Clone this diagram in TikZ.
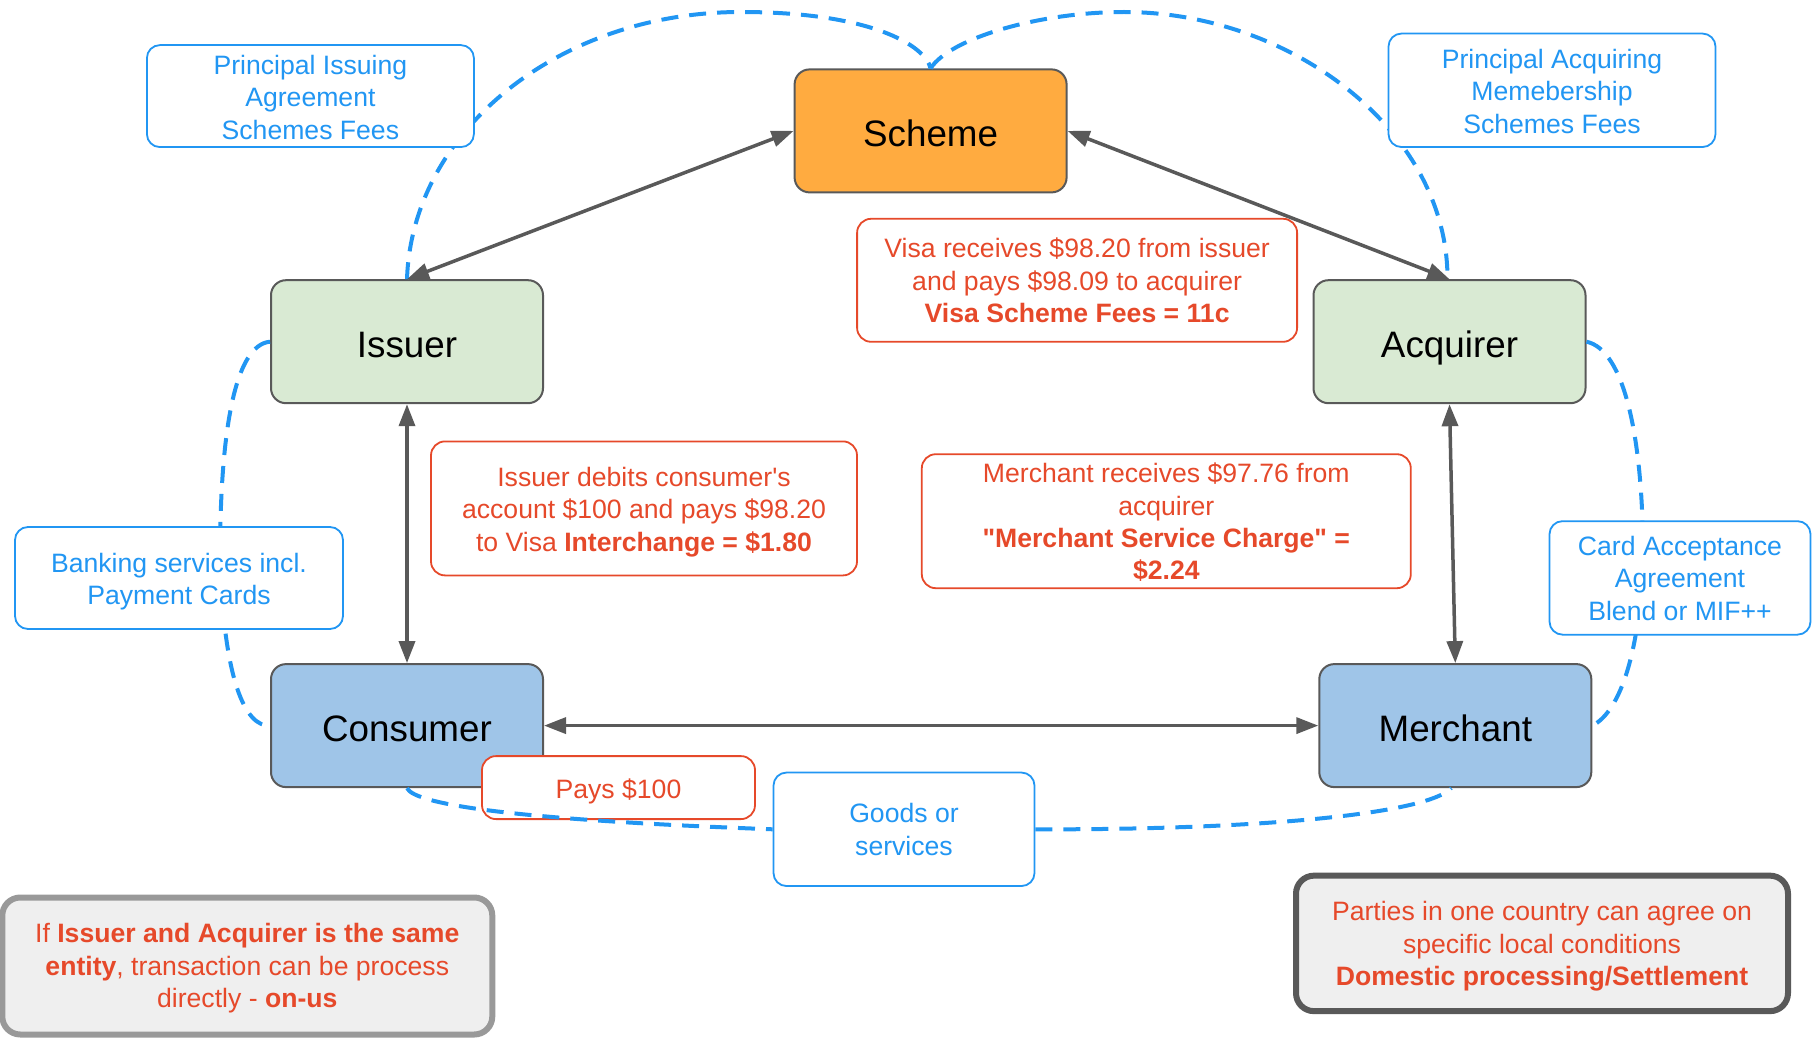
\documentclass[tikz,border=0pt]{standalone}
\usepackage{fontspec}
\setmainfont{Liberation Sans}[Ligatures=TeXOff]
\usetikzlibrary{arrows.meta}
\definecolor{linkblue}{HTML}{2196F3}
\definecolor{notered}{HTML}{E6492A}
\definecolor{edgegray}{HTML}{595959}
\definecolor{schemeorange}{HTML}{FFAB40}
\definecolor{bankgreen}{HTML}{D9EAD3}
\definecolor{partyblue}{HTML}{9FC5E8}
\definecolor{panelgray}{HTML}{EFEFEF}
\definecolor{panelrim}{HTML}{999999}
% invisible strut that sets the height of a first text line
\newcommand\toprule[1]{\rule{0pt}{#1}}

\begin{document}
\begin{tikzpicture}[x=0.5pt,y=-0.5pt,
  party/.style={draw=edgegray, line width=1pt, rounded corners=7.5pt,
    minimum width=136pt, minimum height=61.5pt, inner sep=0pt,
    text height=15.6pt, text depth=0pt,
    font=\fontsize{18.4}{22}\selectfont},
  agree/.style={draw=linkblue, fill=white, line width=0.9pt, rounded corners=6.5pt,
    text=linkblue, align=center, inner sep=0pt,
    font=\fontsize{13.3}{16.2}\selectfont},
  note/.style={draw=notered, fill=white, line width=0.9pt, rounded corners=7pt,
    text=notered, align=center, inner sep=0pt,
    font=\fontsize{13.3}{16.2}\selectfont},
  panel/.style={fill=panelgray, line width=3pt, rounded corners=9pt,
    text=notered, align=center, inner sep=0pt,
    font=\fontsize{13.3}{16.2}\selectfont},
  flow/.style={draw=edgegray, line width=1.75pt,
    {Triangle[length=11pt,width=8pt]}-{Triangle[length=11pt,width=8pt]}},
  link/.style={draw=linkblue, line width=2pt, dash pattern=on 8.5pt off 5.5pt},
]
\useasboundingbox (0,0) rectangle (1816,1038);

% parties
\node[party, fill=schemeorange] (scheme)   at (930.6,130.9) {Scheme};
\node[party, fill=bankgreen]    (issuer)   at (407,341.7)   {Issuer};
\node[party, fill=bankgreen]    (acquirer) at (1449.5,341.7){Acquirer};
\node[party, fill=partyblue]    (consumer) at (407,725.6)   {Consumer};
\node[party, fill=partyblue]    (merchant) at (1455.3,725.6){Merchant};

% contractual relations (dashed, behind the agreement labels)
\coordinate (leftTop)  at (741,12);
\coordinate (rightTop) at (1124,12);
\coordinate (leftMid)  at (220,560);
\coordinate (rightMid) at (1643,545);
\draw[link] (issuer.north) .. controls (412,130) and (560,12) .. (leftTop)
                           .. controls (870,12) and (925,45) .. (scheme.north);
\draw[link] (scheme.north) .. controls (950,38) and (1040,12) .. (rightTop)
                           .. controls (1290,12) and (1448,130) .. ([xshift=-1pt]acquirer.north);
\draw[link] (issuer.west) .. controls (235,345) and (220,430) .. (leftMid)
                          .. controls (224,680) and (245,727) .. (consumer.west);
\draw[link] (acquirer.east) .. controls (1625,350) and (1642,440) .. (rightMid)
                            .. controls (1642,650) and (1620,712) .. (merchant.east);

% agreement labels
\node[agree, minimum width=163.5pt, minimum height=51pt] (pia) at (310.4,96.1)
  {\toprule{10.9pt}Principal Issuing\\Agreement\\Schemes Fees};
\node[agree, minimum width=163.5pt, minimum height=56.75pt] (pam) at (1552,90.3)
  {\toprule{10.6pt}Principal Acquiring\\Memebership\\Schemes Fees};
\node[agree, minimum width=164pt, minimum height=51pt] (bank) at (179,578)
  {\toprule{13.2pt}Banking services incl.\\Payment Cards};
\node[agree, minimum width=130.5pt, minimum height=56.75pt] (caa) at (1680,577.9)
  {\toprule{9.9pt}Card Acceptance\\Agreement\\Blend or MIF++};
\node[agree, minimum width=130.5pt, minimum height=56.75pt] (goods) at (904,829.3)
  {Goods or\\services};

% money flows
\draw[flow] (issuer.north) -- (scheme.west);
\draw[flow] (scheme.east) -- (acquirer.north);
\draw[flow] (issuer.south) -- (consumer.north);
\draw[flow] (acquirer.south) -- (merchant.north);
\draw[flow] (consumer.east) -- (merchant.west);

% amounts
\node[note, minimum width=220pt, minimum height=61.5pt] (visa) at (1077.1,280.3)
  {Visa receives \$98.20 from issuer\\and pays \$98.09 to acquirer\\\textbf{Visa Scheme Fees = 11c}};
\node[note, minimum width=213pt, minimum height=67pt] (debit) at (644,508.4)
  {\toprule{13.2pt}Issuer debits consumer's\\account \$100 and pays \$98.20\\to Visa \textbf{Interchange = \$1.80}};
\node[note, minimum width=244.5pt, minimum height=67pt] (msc) at (1166.3,521.2)
  {\toprule{11pt}Merchant receives \$97.76 from\\acquirer\\\textbf{"Merchant Service Charge" =}\\\textbf{\$2.24}};
\node[note, minimum width=136.5pt, minimum height=31.5pt] (pays) at (618.5,787.6)
  {\toprule{13.2pt}Pays \$100};

% purchase relation
\draw[link] (consumer.south) .. controls (415,805) and (520,820) .. (goods.west);
\draw[link] (goods.east) .. controls (1250,830) and (1425,815) .. ([xshift=-2pt]merchant.south);

% remarks
\node[panel, draw=panelrim, minimum width=245pt, minimum height=68.5pt] (onus) at (247.3,966)
  {\toprule{12pt}If \textbf{Issuer and Acquirer is the same}\\\textbf{entity}, transaction can be process\\directly - \textbf{on-us}};
\node[panel, draw=edgegray, minimum width=246pt, minimum height=67.75pt] (domestic) at (1542,943.4)
  {\toprule{12.6pt}Parties in one country can agree on\\specific local conditions\\\textbf{Domestic processing/Settlement}};
\end{tikzpicture}
\end{document}
